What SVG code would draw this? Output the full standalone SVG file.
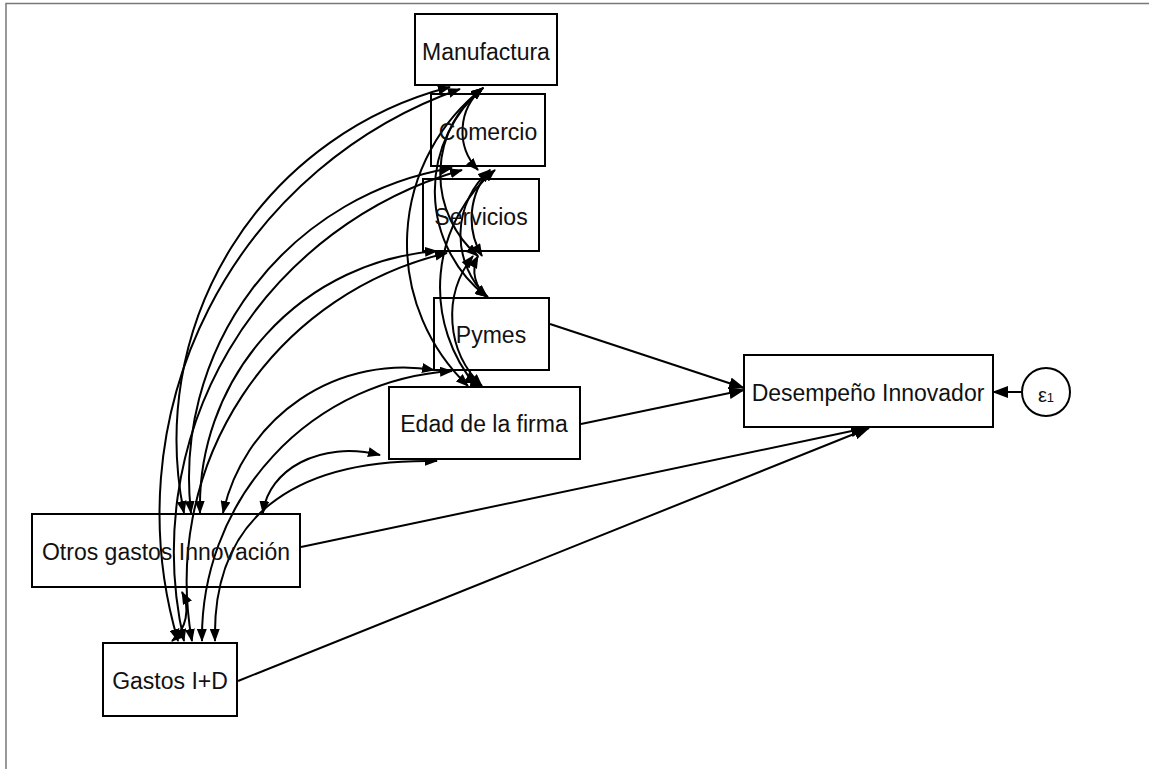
<svg xmlns="http://www.w3.org/2000/svg" width="1149" height="769" viewBox="0 0 1149 769">
<defs>
<style>
.box{fill:#fff;stroke:#000;stroke-width:2}
.lbl{font-family:"Liberation Sans",Arial,sans-serif;font-size:23px;fill:#111;text-anchor:middle}
.path{fill:none;stroke:#000;stroke-width:2;marker-end:url(#ah)}
.cov{fill:none;stroke:#000;stroke-width:2;marker-start:url(#ahs);marker-end:url(#ahs)}
.frame{stroke:#777;stroke-width:1.5;fill:none}
</style>
<marker id="ah" markerUnits="userSpaceOnUse" markerWidth="16" markerHeight="12" refX="15" refY="6" orient="auto">
<path d="M0,0 L16,6 L0,12 z" fill="#000"/>
</marker>
<marker id="ahs" markerUnits="userSpaceOnUse" markerWidth="13" markerHeight="10" refX="12" refY="5" orient="auto-start-reverse">
<path d="M0,0 L13,5 L0,10 z" fill="#000"/>
</marker>
</defs>
<rect width="1149" height="769" fill="#fff"/>
<path class="frame" d="M6,769 V3.5 H1149"/>

<g id="connectors">
<path class="cov" d="M184,513 A364,364 0 0 1 450,87"/>
<path class="cov" d="M191,513 A314,314 0 0 1 452,168"/>
<path class="cov" d="M200,513 A256,256 0 0 1 437,251"/>
<path class="cov" d="M223,513 A185,185 0 0 1 434,370"/>
<path class="cov" d="M263,513 C268,470 320,440 380,455"/>
<path class="cov" d="M178,641 A450,450 0 0 1 460,89"/>
<path class="cov" d="M184,641 A397,397 0 0 1 462,170"/>
<path class="cov" d="M192,641 A337,337 0 0 1 447,253"/>
<path class="cov" d="M202,641 A267,267 0 0 1 452,371"/>
<path class="cov" d="M215,641 C212,520 290,458 437,461"/>
<path class="cov" d="M182,592 A40,40 0 0 1 172,641"/>
<path class="cov" d="M483,88 A56,56 0 0 0 478,170"/>
<path class="cov" d="M483,88 A108,108 0 0 0 478,256"/>
<path class="cov" d="M483,88 A134,134 0 0 0 487,297"/>
<path class="cov" d="M483,88 A197,197 0 0 0 468,386"/>
<path class="cov" d="M490,170 A73,73 0 0 0 482,256"/>
<path class="cov" d="M490,170 A86,86 0 0 0 487,297"/>
<path class="cov" d="M495,170 A153,153 0 0 0 476,386"/>
<path class="cov" d="M478,256 A32,32 0 0 0 488,297"/>
<path class="cov" d="M473,256 A97,97 0 0 0 482,386"/>
<path class="cov" d="M470,371 A15,15 0 0 0 482,386"/>
<path class="path" d="M550,324 L744,388"/>
<path class="path" d="M581,424 L744,390"/>
<path class="path" d="M301,547 L866,428"/>
<path class="path" d="M238,681 L869,428"/>
<path class="path" d="M1022,392 L993,392"/>
</g>

<g id="manufactura"><rect class="box" x="415" y="14" width="142" height="71"/><text class="lbl" x="486" y="60">Manufactura</text></g>
<g id="comercio"><rect class="box" x="431" y="94" width="114" height="72" fill-opacity="0"/><text class="lbl" x="488" y="140">Comercio</text></g>
<g id="servicios"><rect class="box" x="423" y="179" width="116" height="72" fill-opacity="0"/><text class="lbl" x="481" y="225">Servicios</text></g>
<g id="pymes"><rect class="box" x="434" y="298" width="115" height="72" fill-opacity="0"/><text class="lbl" x="491" y="343">Pymes</text></g>
<g id="edad"><rect class="box" x="389" y="387" width="191" height="72"/><text class="lbl" x="484" y="432">Edad de la firma</text></g>
<g id="otros"><rect class="box" x="32" y="514" width="268" height="73" fill-opacity="0"/><text class="lbl" x="166" y="560">Otros gastos Innovación</text></g>
<g id="gastos"><rect class="box" x="103" y="643" width="134" height="73"/><text class="lbl" x="170" y="689">Gastos I+D</text></g>
<g id="desempeno"><rect class="box" x="744" y="355" width="249" height="72"/><text class="lbl" x="868" y="401">Desempeño Innovador</text></g>
<g id="e1"><circle cx="1046" cy="392" r="24" fill="#fff" stroke="#000" stroke-width="2"/><text x="1046" y="402" font-family="Liberation Sans, Arial, sans-serif" font-size="20" text-anchor="middle" fill="#111">ε<tspan font-size="13">1</tspan></text></g>
</svg>
